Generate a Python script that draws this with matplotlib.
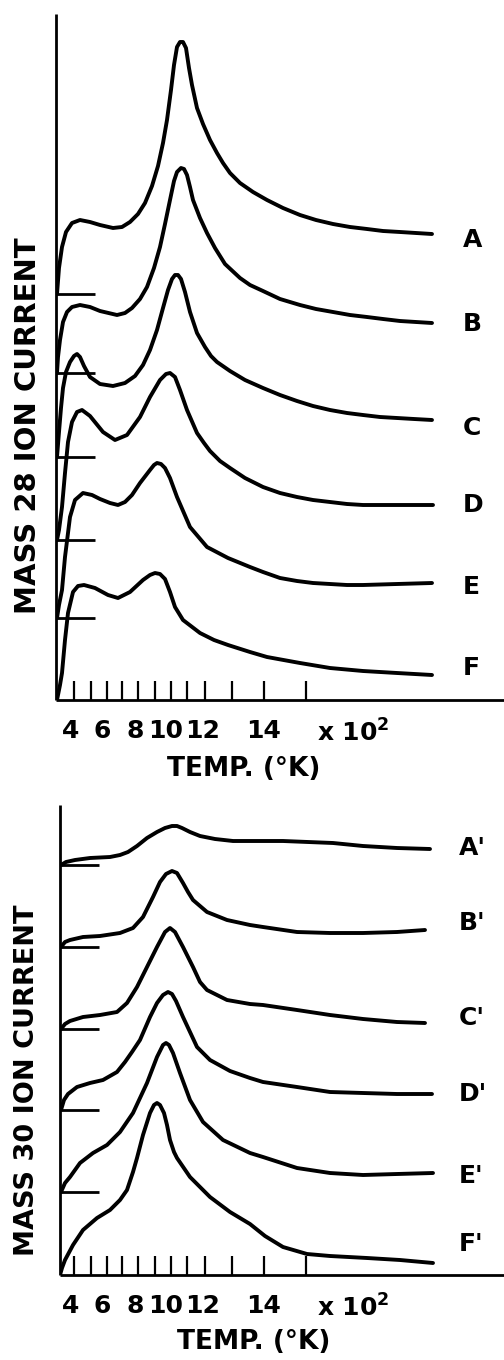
import matplotlib
matplotlib.use("Agg")
import matplotlib.pyplot as plt
import numpy as np

plt.rcParams['font.family'] = ['DejaVu Sans']
plt.rcParams['mathtext.fontset'] = 'dejavusans'
plt.rcParams['mathtext.default'] = 'bf'

# ---------------- data (x = scan time, arb. units; y = ion current, arb. units) -------------
# temperature tick marks along the scan (4..15 x 10^2 K)
TICK_POS = [18, 34.5, 50.5, 66, 81.5, 98.5, 115, 130.5, 149, 175.5, 208, 249.5]
LABEL_POS = [14.5, 46.5, 79.5, 110, 146.5, 208, 297]
LABEL_TEXT = ['4', '6', '8', '10', '12', '14', r'x 10$^{2}$']

# ---- Mass 28 ----
A_T = [1, 3, 6, 10, 16, 24, 34, 44, 57, 66, 74, 82, 89, 96, 102, 107, 111, 115, 118, 121, 124, 127,
       130, 133, 136, 141, 147, 154, 161, 167, 174, 184, 197, 211, 227, 244, 260, 277, 294, 311, 327,
       344, 360, 376]
A_S = [0, 26, 47, 62, 71, 74, 72, 69, 66, 67, 72, 80, 91, 108, 128, 151, 174, 204, 229, 247, 252, 252,
       246, 226, 209, 186, 170, 154, 141, 131, 121, 111, 102, 94, 86, 79, 74, 70, 67, 65, 63,
       62, 61, 60]

B_T = [1, 2, 4, 7, 11, 16, 24, 34, 44, 61, 69, 76, 84, 91, 98, 104, 109, 114, 118, 121, 125, 128,
       131, 134, 137, 144, 151, 159, 169, 184, 194, 207, 224, 244, 260, 277, 294, 311, 327, 344, 360, 376]
B_S = [0, 16, 33, 51, 61, 66, 68, 66, 62, 58, 60, 65, 74, 86, 105, 126, 149, 173, 192, 201, 205, 204,
       198, 186, 173, 155, 140, 125, 109, 95, 88, 82, 74, 68, 64, 61, 58, 56, 54, 52, 51, 50]

C_T = [1, 3, 5, 7, 10, 14, 18, 21, 24, 28, 34, 44, 57, 69, 79, 87, 94, 101, 107, 112, 116, 119, 122,
       125, 129, 134, 141, 149, 155, 161, 174, 189, 207, 224, 241, 257, 274, 291, 307, 324, 341, 358, 376]
C_S = [0, 25, 49, 69, 85, 95, 101, 103, 100, 91, 80, 73, 71, 74, 81, 92, 107, 127, 149, 167, 178, 182, 182,
       178, 165, 145, 124, 110, 101, 95, 86, 77, 69, 62, 56, 51, 47, 44, 42, 40, 39, 38, 37]

D_T = [1, 3, 6, 9, 12, 16, 21, 26, 34, 47, 59, 71, 84, 94, 104, 110, 114, 119, 124, 131, 141, 148,
       154, 164, 174, 189, 207, 224, 241, 257, 274, 291, 307, 341, 377]
D_S = [0, 10, 33, 67, 98, 118, 128, 130, 124, 108, 100, 105, 123, 143, 160, 166, 167, 163, 150, 130, 107, 97,
       89, 79, 72, 62, 53, 47, 43, 40, 38, 36, 35, 35, 35]

E_T = [1, 3, 6, 9, 14, 19, 27, 36, 44, 54, 62, 69, 76, 84, 94, 98, 101, 105, 109, 114, 121, 134, 151,
       172, 194, 207, 224, 241, 257, 274, 291, 307, 341, 376]
E_S = [0, 13, 28, 61, 101, 118, 125, 123, 119, 115, 113, 116, 123, 135, 148, 153, 155, 154, 150, 140, 121, 91, 71,
       60, 51, 46, 40, 37, 35, 34, 33, 33, 34, 35]

F_T = [1, 4, 6, 9, 12, 17, 22, 28, 39, 52, 62, 74, 87, 94, 99, 104, 109, 114, 119, 127, 144, 158,
       172, 194, 211, 244, 274, 307, 341, 376]
F_S = [0, 15, 27, 60, 87, 108, 114, 115, 112, 105, 102, 108, 120, 125, 127, 126, 121, 108, 93, 80, 67, 60,
       55, 48, 43, 37, 32, 29, 27, 25]

TOP_NAMES = ['A', 'B', 'C', 'D', 'E', 'F']
TOP_OFFSETS = [406, 327, 243, 160, 82, 0]

# ---- Mass 30 ----
A2_T = [5, 10, 19, 34, 54, 64, 72, 81, 91, 101, 109, 116, 121, 126, 134, 144, 159, 177, 207, 227, 252,
        277, 307, 341, 374]
A2_S = [0, 3, 5, 7, 8, 10, 13, 19, 27, 33, 37, 39, 39, 37, 33, 29, 26, 24, 24, 24, 23,
        22, 19, 17, 16]

B2_T = [5, 9, 14, 27, 44, 64, 77, 87, 97, 104, 110, 116, 121, 127, 132, 137, 151, 171, 194, 207, 241,
        274, 307, 341, 369]
B2_S = [0, 5, 7, 10, 11, 14, 19, 30, 50, 65, 73, 76, 74, 64, 55, 47, 35, 27, 22, 20, 15,
        14, 14, 15, 17]

C2_T = [5, 9, 14, 27, 44, 61, 71, 81, 91, 101, 109, 114, 119, 127, 137, 144, 151, 171, 194, 207, 241,
        274, 307, 341, 369]
C2_S = [0, 5, 8, 12, 14, 17, 26, 42, 62, 82, 97, 101, 97, 82, 62, 47, 39, 29, 25, 24, 19,
        14, 10, 7, 6]

D2_T = [5, 8, 12, 21, 34, 47, 61, 69, 76, 84, 94, 101, 107, 112, 116, 120, 127, 134, 141, 154, 174,
        194, 207, 241, 274, 307, 341, 376]
D2_S = [0, 10, 16, 23, 27, 30, 38, 48, 58, 70, 93, 107, 115, 118, 116, 109, 93, 78, 63, 50, 39,
        32, 28, 23, 18, 17, 16, 16]

E2_T = [5, 9, 14, 24, 37, 51, 64, 77, 91, 101, 107, 110, 113, 117, 124, 134, 147, 167, 194, 207, 241,
        274, 307, 341, 377]
E2_S = [0, 9, 15, 29, 39, 47, 60, 79, 109, 135, 147, 149, 147, 139, 119, 92, 70, 52, 39, 35, 24,
        19, 17, 18, 19]

F2_T = [4, 6, 9, 17, 27, 41, 54, 64, 71, 77, 81, 87, 94, 98, 101, 104, 108, 111, 114, 118, 121, 134,
        154, 174, 194, 209, 227, 251, 274, 311, 344, 377]
F2_S = [0, 7, 15, 30, 45, 57, 65, 75, 85, 103, 117, 140, 162, 170, 172, 170, 162, 150, 135, 123, 117, 98,
        78, 63, 51, 39, 28, 21, 19, 17, 15, 12]

BOT_NAMES = ["A'", "B'", "C'", "D'", "E'", "F'"]
BOT_OFFSETS = [410, 328, 246, 165, 83, 0]

TOP_CURVES = [(A_T, A_S), (B_T, B_S), (C_T, C_S), (D_T, D_S), (E_T, E_S), (F_T, F_S)]
BOT_CURVES = [(A2_T, A2_S), (B2_T, B2_S), (C2_T, C2_S), (D2_T, D2_S), (E2_T, E2_S), (F2_T, F2_S)]

# label nudges (layout only)
TOP_NUDGE = [-6, -1, -8, 0, -4, 7]
BOT_NUDGE = [1, 7, 5, 0, -3, 19]

# ---------------- figure ----------------
W, H = 504, 1360
fig = plt.figure(figsize=(W / 100, H / 100), dpi=100)
ax1 = fig.add_axes([56 / W, (H - 700) / H, 448 / W, 686 / H])
ax2 = fig.add_axes([60 / W, (H - 1275) / H, 444 / W, 470 / H])


def style(ax, xmin, ymax):
    ax.set_xlim(xmin, 448)
    ax.set_ylim(0, ymax)
    for s in ['top', 'right']:
        ax.spines[s].set_visible(False)
    for s in ['left', 'bottom']:
        ax.spines[s].set_linewidth(2.0)
        ax.spines[s].set_capstyle('butt')
    ax.set_yticks([])
    ax.xaxis.remove_overlapping_locs = False
    ax.set_xticks(TICK_POS, minor=True)
    ax.set_xticks(LABEL_POS, LABEL_TEXT)
    ax.tick_params(axis='x', which='minor', direction='in', length=13.5, width=1.6)
    ax.tick_params(axis='x', which='major', length=0, pad=14, labelsize=18)
    for lab in ax.get_xticklabels():
        lab.set_fontweight('bold')


def draw(ax, curves, offsets, names, nudges, x0, label_x):
    for (t, s), off, name, nd in zip(curves, offsets, names, nudges):
        y = np.array(s, dtype=float) + off
        ax.plot(t, y, color='black', lw=2.8, solid_capstyle='round', solid_joinstyle='round')
        ax.text(label_x, y[-1] + nd, name, fontsize=18, fontweight='bold', ha='left', va='center',
                clip_on=False)
    ax.hlines([o for o in offsets if o > 0], x0, x0 + 39, color='black', lw=2.0)


style(ax1, 0, 686)
style(ax2, 4, 470)
draw(ax1, TOP_CURVES, TOP_OFFSETS, TOP_NAMES, TOP_NUDGE, 0, 407)
draw(ax2, BOT_CURVES, BOT_OFFSETS, BOT_NAMES, BOT_NUDGE, 4, 403)

fig.text(28 / W, 1 - 426 / H, 'MASS 28 ION CURRENT', rotation=90, ha='center', va='center',
         fontsize=21, fontweight='bold')
fig.text(27 / W, 1 - 1080 / H, 'MASS 30 ION CURRENT', rotation=90, ha='center', va='center',
         fontsize=19.5, fontweight='bold')
fig.text(244 / W, 1 - 769 / H, 'TEMP. (°K)', ha='center', va='center', fontsize=19, fontweight='bold')
fig.text(254 / W, 1 - 1342 / H, 'TEMP. (°K)', ha='center', va='center', fontsize=19, fontweight='bold')

fig.savefig('out.png', dpi=100)
